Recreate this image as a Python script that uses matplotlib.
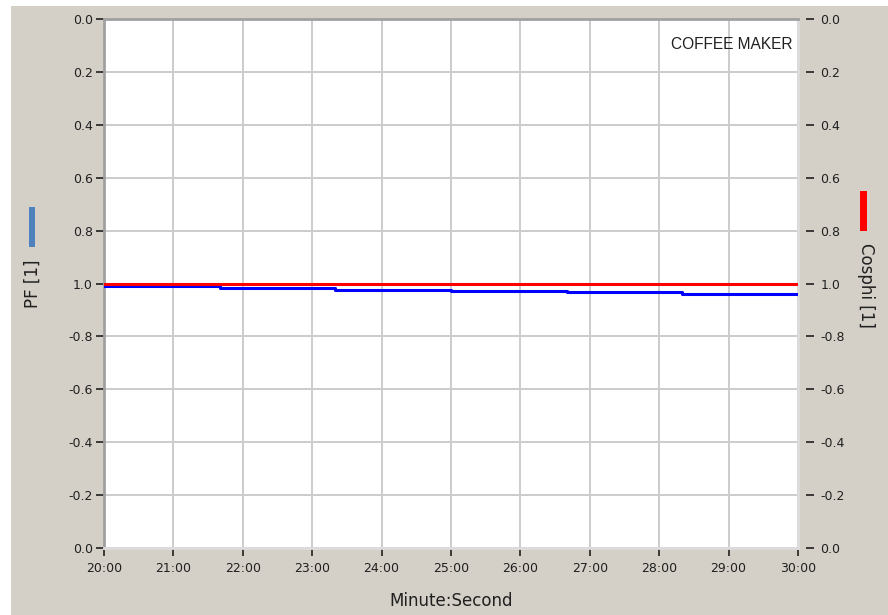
import matplotlib.pyplot as plt
from matplotlib.patches import Rectangle

# data (minutes, power factor)
step_minutes = [20.0, 21.67, 23.33, 25.0, 26.67, 28.33, 30.0]
pf_values = [-0.990, -0.984, -0.977, -0.971, -0.966, -0.960, -0.960]
cosphi_minutes = [20.0, 30.0]
cosphi_values = [1.0, 1.0]
x_ticks = [20, 21, 22, 23, 24, 25, 26, 27, 28, 29, 30]
x_tick_labels = ["20:00", "21:00", "22:00", "23:00", "24:00", "25:00",
                 "26:00", "27:00", "28:00", "29:00", "30:00"]
y_tick_labels = ["0.0", "0.2", "0.4", "0.6", "0.8", "1.0",
                 "-0.8", "-0.6", "-0.4", "-0.2", "0.0"]


def pf_axis(v):
    # PF scale: 0 at top, 1.0 in the middle, negative values below
    return [x if x >= 0 else 2 + x for x in v]


plt.rcParams['font.family'] = ['DejaVu Sans']
bg = "#d4d0c8"
txt = "#202020"

fig = plt.figure(figsize=(8.88, 6.15), dpi=100)
fig.patch.set_facecolor("white")
fig.patches.append(Rectangle((11 / 888, 0), 1, 1 - 6 / 615, transform=fig.transFigure,
                             facecolor=bg, edgecolor="none", zorder=-10))

ax = fig.add_axes([104 / 888, 1 - 548 / 615, 694 / 888, 529 / 615])
ax.set_facecolor("white")
ax.set_xlim(20, 30)
ax.set_ylim(2, 0)

y_ticks = [i * 0.2 for i in range(11)]
ax.set_yticks(y_ticks)
ax.set_yticklabels(y_tick_labels)
ax.set_xticks(x_ticks)
ax.set_xticklabels(x_tick_labels)
ax.grid(True, color="#cccccc", linewidth=1.4)
ax.set_axisbelow(True)
ax.tick_params(axis="both", labelsize=9, length=6, width=1.2, color=txt, labelcolor=txt)
ax.tick_params(axis="y", pad=2)
ax.tick_params(axis="x", pad=4)

for s in ["left", "top"]:
    ax.spines[s].set_color("#a0a0a0")
    ax.spines[s].set_linewidth(2)
for s in ["right", "bottom"]:
    ax.spines[s].set_color("#dcdcdc")
    ax.spines[s].set_linewidth(2)

ax.step(step_minutes, pf_axis(pf_values), where="post", color="#0000ff", linewidth=2.2, zorder=3)
ax.plot(cosphi_minutes, pf_axis(cosphi_values), color="#ff0000", linewidth=2.2, zorder=4)

ax.text(0.992, 0.952, "COFFEE MAKER", transform=ax.transAxes, ha="right", va="center",
        fontsize=11.2, color=txt, family="Liberation Sans")

# right axis, same scale, ticks detached from the frame
ax2 = ax.twinx()
ax2.set_ylim(2, 0)
ax2.set_yticks(y_ticks)
ax2.set_yticklabels(y_tick_labels)
ax2.spines["right"].set_position(("outward", 6))
for s in ["left", "right", "top", "bottom"]:
    ax2.spines[s].set_visible(False)
ax2.tick_params(axis="y", labelsize=9, length=6, width=1.2, color=txt, labelcolor=txt, pad=4)

ax.set_xlabel("Minute:Second", fontsize=12, labelpad=12, color=txt)

# axis titles with colour swatches
fig.text(33 / 888, 1 - 284 / 615, "PF [1]", rotation=90, ha="center", va="center",
         fontsize=12, color=txt)
fig.patches.append(Rectangle((29 / 888, 1 - 247 / 615), 6 / 888, 40 / 615, transform=fig.transFigure,
                             facecolor="#4f81bd", edgecolor="none"))
fig.text(866 / 888, 1 - 285 / 615, "Cosphi [1]", rotation=270, ha="center", va="center",
         fontsize=12, color=txt)
fig.patches.append(Rectangle((860 / 888, 1 - 231 / 615), 7 / 888, 40 / 615, transform=fig.transFigure,
                             facecolor="#ff0000", edgecolor="none"))

fig.savefig("out.png", dpi=100, facecolor=fig.get_facecolor())
